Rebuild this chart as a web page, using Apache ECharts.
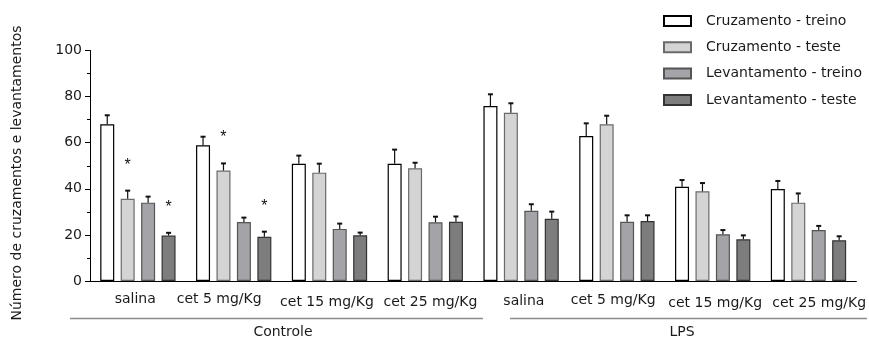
<!DOCTYPE html>
<html>
<head>
<meta charset="utf-8">
<script src="https://cdn.jsdelivr.net/npm/echarts@6/dist/echarts.min.js"></script>
<style>
  html, body { margin: 0; padding: 0; background: #ffffff; }
  #chart { width: 869px; height: 340px; }
</style>
</head>
<body>
<div id="chart"></div>
<script>
// Categories (dose groups), shown twice: Controle and LPS
const categories = ['salina', 'cet 5 mg/Kg', 'cet 15 mg/Kg', 'cet 25 mg/Kg',
                    'salina', 'cet 5 mg/Kg', 'cet 15 mg/Kg', 'cet 25 mg/Kg'];
const groupNames = ['Controle', 'LPS'];
const seriesNames = ['Cruzamento - treino', 'Cruzamento - teste',
                     'Levantamento - treino', 'Levantamento - teste'];

// Means
const cruzTreino = [68.0, 58.9, 50.9, 50.9, 75.9, 62.9, 40.9, 39.9];
const cruzTeste  = [35.7, 47.9, 47.0, 48.9, 73.0, 68.0, 38.9, 34.0];
const levTreino  = [34.0, 25.6, 22.6, 25.5, 30.5, 25.7, 20.3, 22.1];
const levTeste   = [19.7, 19.2, 19.8, 25.7, 27.0, 26.0, 18.1, 17.7];

// Standard errors (upper whisker)
const cruzTreinoSem = [3.9, 3.7, 3.5, 6.1, 5.1, 5.5, 2.9, 3.5];
const cruzTesteSem  = [3.5, 3.1, 3.9, 2.4, 4.1, 3.7, 3.6, 4.0];
const levTreinoSem  = [2.6, 1.9, 2.3, 2.4, 2.8, 2.8, 1.8, 1.8];
const levTesteSem   = [1.2, 2.2, 1.2, 2.3, 3.1, 2.5, 1.7, 1.7];

// Significance markers: [series index, category index]
const significant = [[1, 0], [3, 0], [1, 1], [3, 1]];

// Y axis range and step
const yMin = 0;
const yMax = 100;
const yStep = 20;

const FONT = '"DejaVu Sans", "Liberation Sans", sans-serif';
const INK = '#1a1a1a';
const BAR_W = 14;
const BAR_GAP = '46%';
const STAR_GAP = 11;   // distance above the whisker, in axis units

const means = [cruzTreino, cruzTeste, levTreino, levTeste];
const sems = [cruzTreinoSem, cruzTesteSem, levTreinoSem, levTesteSem];

const barStyles = [
  { color: '#ffffff', borderColor: '#000000', borderWidth: 1.2 },
  { color: '#d4d4d4', borderColor: '#6a6a6a', borderWidth: 1.2 },
  { color: '#a3a3a8', borderColor: '#555555', borderWidth: 1.2 },
  { color: '#7d7d7d', borderColor: '#333333', borderWidth: 1.2 }
];

// small per-label nudges of the category captions [dx, dy]
const labelNudge = [[-2.7, 0], [-14.5, 0], [-2.5, 2.7], [5.1, 2.7],
                    [2.8, 1.7], [-3.7, 0.7], [2.5, 4], [10.7, 4]];
const rich = {};
labelNudge.forEach(([dx, dy], i) => {
  rich['n' + i] = {
    fontFamily: FONT, fontSize: 14, color: INK,
    padding: [dy, dx < 0 ? -2 * dx : 0, 0, dx > 0 ? 2 * dx : 0]
  };
});

const barSeries = seriesNames.map((name, s) => ({
  name: name,
  type: 'bar',
  barWidth: BAR_W,
  barGap: BAR_GAP,
  itemStyle: barStyles[s],
  emphasis: { disabled: true },
  data: means[s],
  z: 2
}));

// [category, series, mean, whisker top]
const errData = [];
means.forEach((arr, s) => arr.forEach((m, c) => errData.push([c, s, m, +(m + sems[s][c]).toFixed(2)])));

const starData = significant.map(([s, c]) => [c, s, means[s][c] + sems[s][c] + STAR_GAP]);

function barX(api, catIdx, s) {
  const layout = api.barLayout({ barWidth: BAR_W, barGap: BAR_GAP, count: seriesNames.length });
  const p = api.coord([catIdx, 0]);
  return p[0] + layout[s].offsetCenter;
}

const chart = echarts.init(document.getElementById('chart'), null, { renderer: 'canvas' });

chart.setOption({
  animation: false,
  backgroundColor: '#ffffff',
  grid: { left: 90, right: 11, top: 50.5, bottom: 59, containLabel: false },
  legend: {
    orient: 'vertical',
    left: 658,
    top: 8,
    itemWidth: 27,
    itemHeight: 10,
    itemGap: 10.3,
    icon: 'rect',
    selectedMode: false,
    textStyle: { fontFamily: FONT, fontSize: 14, color: INK, lineHeight: 16, padding: [0, 0, 0, 10] },
    data: seriesNames
  },
  xAxis: {
    type: 'category',
    data: categories,
    axisLine: { lineStyle: { color: '#000000', width: 1 } },
    axisTick: { alignWithLabel: true, length: 5, lineStyle: { color: '#000000' } },
    axisLabel: {
      interval: 0,
      margin: 11.5,
      formatter: (v, i) => '{n' + i + '|' + v + '}',
      rich: rich
    },
    splitLine: { show: false }
  },
  yAxis: {
    type: 'value',
    min: yMin,
    max: yMax,
    interval: yStep,
    axisLine: { show: true, lineStyle: { color: '#000000', width: 1 } },
    axisTick: { show: true, length: 5, lineStyle: { color: '#000000' } },
    minorTick: { show: true, splitNumber: 2, length: 3, lineStyle: { color: '#000000' } },
    axisLabel: { fontFamily: FONT, fontSize: 14, color: INK, margin: 8 },
    splitLine: { show: false }
  },
  series: barSeries.concat([
    {
      type: 'custom',
      silent: true,
      z: 5,
      data: errData,
      encode: { x: 0, y: [2, 3] },
      renderItem: function (params, api) {
        const c = api.value(0), s = api.value(1);
        const x = barX(api, c, s);
        const yb = api.coord([c, api.value(2)])[1];
        const yt = api.coord([c, api.value(3)])[1];
        return {
          type: 'group',
          children: [
            { type: 'line', shape: { x1: x, y1: yb, x2: x, y2: yt }, style: { stroke: '#111111', lineWidth: 1.2 } },
            { type: 'line', shape: { x1: x - 2.5, y1: yt, x2: x + 2.5, y2: yt }, style: { stroke: '#111111', lineWidth: 2 } }
          ]
        };
      }
    },
    {
      type: 'custom',
      silent: true,
      z: 5,
      data: starData,
      encode: { x: 0, y: 2 },
      renderItem: function (params, api) {
        const c = api.value(0), s = api.value(1);
        const x = barX(api, c, s);
        const y = api.coord([c, api.value(2)])[1];
        return {
          type: 'text',
          x: x,
          y: y,
          style: {
            text: '*',
            fontFamily: '"Liberation Sans", Arial, sans-serif',
            fontSize: 16,
            fill: '#111111',
            align: 'center',
            verticalAlign: 'middle'
          }
        };
      }
    }
  ]),
  graphic: [
    {
      type: 'text',
      x: 17,
      y: 173,
      rotation: Math.PI / 2,
      style: {
        text: 'Número de cruzamentos e levantamentos',
        fontFamily: FONT, fontSize: 14, fill: INK,
        align: 'center', verticalAlign: 'middle'
      }
    },
    { type: 'line', shape: { x1: 70, y1: 318.5, x2: 483, y2: 318.5 }, style: { stroke: '#8c8c8c', lineWidth: 1.6 } },
    { type: 'line', shape: { x1: 510, y1: 318.5, x2: 867, y2: 318.5 }, style: { stroke: '#8c8c8c', lineWidth: 1.6 } },
    {
      type: 'text', x: 283, y: 332,
      style: { text: groupNames[0], fontFamily: FONT, fontSize: 14, fill: INK, align: 'center', verticalAlign: 'middle' }
    },
    {
      type: 'text', x: 682, y: 332,
      style: { text: groupNames[1], fontFamily: FONT, fontSize: 14, fill: INK, align: 'center', verticalAlign: 'middle' }
    }
  ]
});
</script>
</body>
</html>
